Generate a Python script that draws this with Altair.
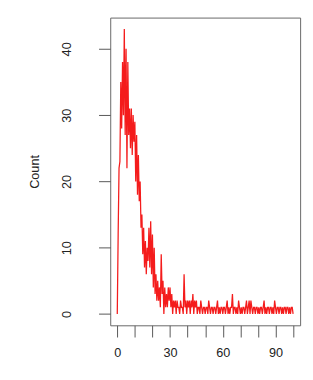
import altair as alt
import pandas as pd

# Data (counts at half-unit steps from 0 to 100)
counts = [
    0, 12, 22, 23, 35, 28, 38, 30, 43, 27,    # 0 - 4.5
    40, 22, 38, 27, 31, 25, 31, 24, 30, 26,   # 5 - 9.5
    29, 20, 27, 18, 24, 17, 20, 13, 15, 9,    # 10 - 14.5
    13, 7, 11, 6, 10, 8, 13, 7, 14, 6,        # 15 - 19.5
    12, 4, 10, 3, 6, 2, 5, 2, 4, 1,           # 20 - 24.5
    9, 3, 5, 0, 4, 1, 3, 1, 4, 2,             # 25 - 29.5
    4, 1, 3, 0, 2, 1, 2, 0, 2, 1,             # 30 - 34.5
    1, 0, 2, 1, 1, 0, 6, 1, 2, 0,             # 35 - 39.5
    2, 1, 2, 0, 2, 1, 3, 0, 2, 1,             # 40 - 44.5
    2, 0, 1, 1, 0, 2, 1, 0, 1, 1,             # 45 - 49.5
    0, 1, 1, 0, 2, 1, 0, 1, 1, 0,             # 50 - 54.5
    1, 1, 0, 1, 2, 0, 1, 0, 1, 1,             # 55 - 59.5
    0, 1, 1, 0, 1, 2, 0, 1, 0, 1,             # 60 - 64.5
    1, 3, 0, 1, 1, 0, 1, 0, 2, 1,             # 65 - 69.5
    0, 1, 0, 1, 1, 0, 1, 2, 0, 1,             # 70 - 74.5
    2, 0, 2, 1, 0, 1, 1, 0, 1, 1,             # 75 - 79.5
    0, 1, 0, 1, 1, 0, 1, 2, 0, 1,             # 80 - 84.5
    0, 1, 1, 0, 1, 1, 0, 1, 0, 2,             # 85 - 89.5
    1, 0, 1, 1, 0, 1, 1, 0, 1, 0,             # 90 - 94.5
    1, 1, 0, 1, 1, 0, 1, 0, 1, 1,             # 95 - 99.5
    0,                                        # 100
]
x_values = [i / 2 for i in range(len(counts))]
y_ticks = [0, 10, 20, 30, 40]
x_ticks = [0, 10, 20, 30, 40, 50, 60, 70, 80, 90, 100]

df = pd.DataFrame({"x": x_values, "count": counts})

FONT = "Liberation Sans"

chart = (
    alt.Chart(df)
    .mark_line(color="#f41c1c", strokeWidth=1.3, clip=True)
    .encode(
        x=alt.X(
            "x:Q",
            scale=alt.Scale(domain=[-4, 104], nice=False, zero=False),
            axis=alt.Axis(
                values=x_ticks,
                labelExpr="datum.value % 30 == 0 ? datum.label : ''",
                title=None,
                grid=False,
                domain=False,
                tickSize=12,
                tickColor="#555555",
                labelPadding=10,
                labelFont=FONT,
                labelFontSize=13,
                labelColor="#222222",
                labelFlush=False,
                labelOverlap=False,
            ),
        ),
        y=alt.Y(
            "count:Q",
            scale=alt.Scale(domain=[-1.72, 44.72], nice=False, zero=False),
            axis=alt.Axis(
                values=y_ticks,
                title="Count",
                grid=False,
                domain=False,
                tickSize=12,
                tickColor="#555555",
                labelAngle=270,
                labelAlign="center",
                labelBaseline="bottom",
                labelPadding=26,
                labelFont=FONT,
                labelFontSize=13,
                labelColor="#222222",
                labelFlush=False,
                labelOverlap=False,
                titleFont=FONT,
                titleFontSize=13,
                titleFontWeight="normal",
                titleColor="#222222",
                titleAngle=270,
                titleAlign="center",
                titleBaseline="middle",
                titleX=-78,
                titleY=158,
            ),
        ),
    )
    .properties(
        width=195,
        height=316,
        padding={"left": 105, "top": 5, "right": 5, "bottom": 40},
        autosize=alt.AutoSizeParams(type="none"),
    )
    .configure_view(stroke="#666666", strokeWidth=1)
)

chart.save("out.html", embed_options={"renderer": "svg", "actions": False})
